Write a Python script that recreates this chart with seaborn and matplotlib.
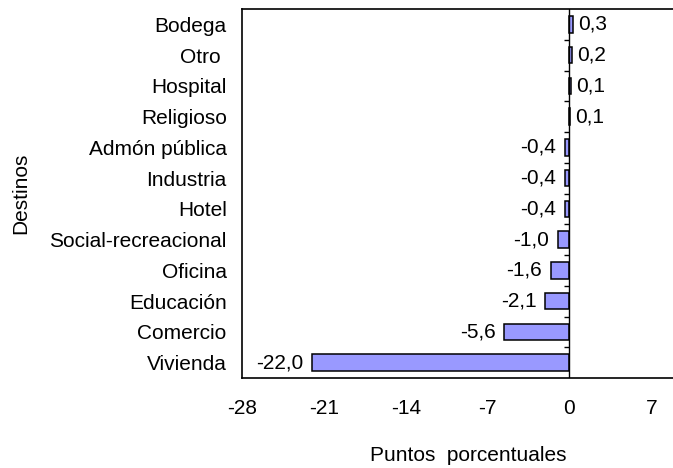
import matplotlib
matplotlib.use("Agg")
import matplotlib.pyplot as plt
import seaborn as sns
import numpy as np
import pandas as pd

categories = ["Bodega", "Otro ", "Hospital", "Religioso", "Admón pública", "Industria",
              "Hotel", "Social-recreacional", "Oficina", "Educación", "Comercio", "Vivienda"]
values = [0.3, 0.2, 0.1, 0.05, -0.4, -0.4, -0.4, -1.0, -1.6, -2.1, -5.6, -22.0]
xticks = [-28, -21, -14, -7, 0, 7]

sns.set_style("white")
plt.rcParams['font.family'] = ['Liberation Sans', 'DejaVu Sans']
plt.rcParams.update({"text.color": "black", "axes.labelcolor": "black",
                     "xtick.color": "black", "ytick.color": "black"})

FS = 15

df = pd.DataFrame({"Destino": categories, "Valor": values})

fig = plt.figure(figsize=(6.73, 4.68), dpi=100)
ax = fig.add_axes([242/673, 1 - 378/468, 1 - 242/673, (378 - 9)/468])

sns.barplot(data=df, x="Valor", y="Destino", orient="h", color="#9999FF",
            edgecolor="black", linewidth=1.1, width=0.53, saturation=1, ax=ax)

ax.set_xlim(-28, 8.86)
ax.set_ylim(11.5, -0.5)
ax.set_xticks(xticks)
ax.set_xticklabels([str(t) for t in xticks], fontsize=FS)
ax.tick_params(axis='x', direction='out', length=5, width=1, color='black', pad=10)
ax.tick_params(axis='y', length=0, pad=11, labelsize=FS)

for s in ["left", "bottom", "top"]:
    ax.spines[s].set_visible(True)
    ax.spines[s].set_color("black")
    ax.spines[s].set_linewidth(1.2)
ax.spines["right"].set_visible(False)

# zero category axis with its tick marks
ax.axvline(0, color="black", lw=1, zorder=1)
ax.hlines(np.arange(0.5, 11.0, 1.0), -0.42, 0, color="black", lw=1, zorder=1)

for i, v in enumerate(values):
    txt = f"{v:.1f}".replace(".", ",")
    if v >= 0:
        ax.annotate(txt, (v, i), xytext=(4, 0), textcoords="offset points",
                    ha="left", va="center", fontsize=FS)
    else:
        ax.annotate(txt, (v, i), xytext=(-6, 0), textcoords="offset points",
                    ha="right", va="center", fontsize=FS)

ax.set_ylabel("Destinos", fontsize=FS)
ax.set_xlabel("Puntos  porcentuales", fontsize=FS)
ax.xaxis.set_label_coords((468 - 242) / (673 - 242), -(446 - 378) / 369)
ax.yaxis.set_label_coords(-(242 - 30) / (673 - 242), 0.5)

fig.savefig("out.png", dpi=100)
